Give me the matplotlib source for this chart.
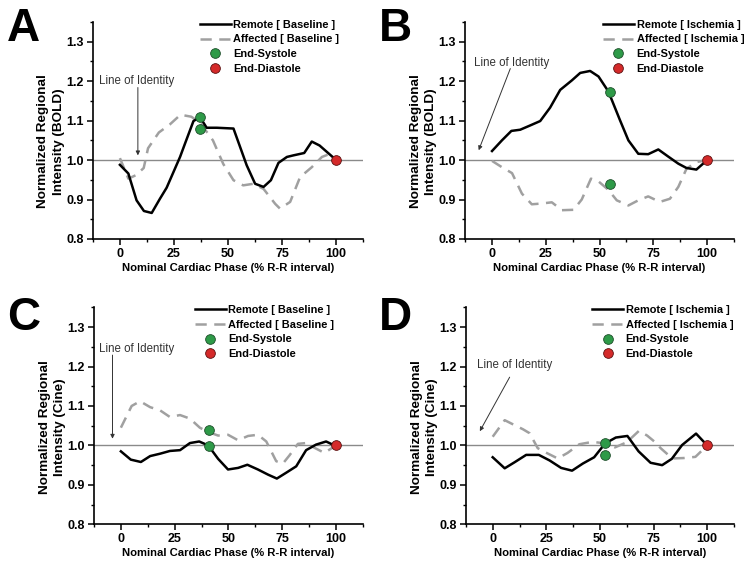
import matplotlib
matplotlib.use('Agg')
import matplotlib.pyplot as plt
from matplotlib.ticker import MultipleLocator

plt.rcParams['font.family'] = ['Liberation Sans', 'DejaVu Sans']

# ---- panel A: BOLD, baseline
a_remote_x = [0, 3.9, 7.7, 11.1, 14.7, 18.5, 21.6, 27.8, 30.1, 34, 37, 40.1, 44.8, 52.5,
              58.6, 62.5, 66.4, 69.8, 73.3, 77.2, 80.2, 85.2, 88.7, 92.3, 100]
a_remote_y = [0.988, 0.966, 0.898, 0.871, 0.866, 0.902, 0.930, 1.008, 1.042, 1.099, 1.109, 1.082,
              1.082, 1.080, 0.987, 0.940, 0.932, 0.949, 0.993, 1.008, 1.012, 1.018, 1.047, 1.037, 1.0]
a_aff_x = [0, 3.9, 7.5, 11, 13, 18, 23, 28, 33, 37, 43, 47.8, 52.5, 57, 61.7, 66.4, 71.8,
           74, 78.7, 83.3, 88.7, 93.4, 97.2, 100]
a_aff_y = [1.005, 0.953, 0.962, 0.98, 1.03, 1.07, 1.09, 1.115, 1.11, 1.095, 1.05, 0.99, 0.949,
           0.936, 0.940, 0.927, 0.889, 0.877, 0.894, 0.957, 0.982, 1.008, 1.016, 1.0]
a_es = (37, [1.109, 1.079])

# ---- panel B: BOLD, ischemia
b_remote_x = [0, 4.6, 9, 13.1, 17.8, 22.4, 27, 31.7, 37.1, 41, 45.6, 49.5, 54.1, 59.5, 63.4,
              68, 72.6, 77.3, 81.9, 86.6, 90.4, 95, 100]
b_remote_y = [1.023, 1.050, 1.074, 1.077, 1.088, 1.099, 1.133, 1.178, 1.202, 1.221, 1.226, 1.212,
              1.174, 1.101, 1.050, 1.016, 1.015, 1.027, 1.009, 0.991, 0.980, 0.976, 1.0]
b_aff_x = [0, 4.6, 9.3, 13.9, 18.5, 23.2, 27.8, 32.5, 37.9, 41.7, 46, 49.5, 54, 58, 63.4,
           68, 72.6, 78, 82.7, 86.6, 90.4, 95, 100]
b_aff_y = [0.998, 0.982, 0.967, 0.915, 0.888, 0.890, 0.893, 0.873, 0.874, 0.900, 0.953, 0.946,
           0.925, 0.898, 0.885, 0.898, 0.908, 0.894, 0.902, 0.932, 0.978, 0.995, 1.0]
b_es = (54.7, [1.173, 0.939])

# ---- panel C: Cine, baseline
c_remote_x = [0, 4.6, 9.3, 13.6, 18.2, 22.8, 27.5, 32.1, 36.4, 40.6, 45.2, 49.8, 54.5, 58.8,
              63.7, 68.4, 72.5, 76.9, 81.5, 86.1, 90.7, 95.4, 100]
c_remote_y = [0.985, 0.964, 0.958, 0.973, 0.979, 0.986, 0.988, 1.006, 1.010, 1.000, 0.966, 0.939,
              0.943, 0.951, 0.939, 0.926, 0.916, 0.931, 0.947, 0.988, 1.002, 1.010, 0.998]
c_aff_x = [0, 5, 8.9, 13.6, 18.2, 22.8, 27.5, 32.1, 36.7, 40.6, 45.2, 49.8, 54.5, 59.1, 63.7,
           67.6, 72.2, 75.3, 78.4, 82.3, 86.1, 90, 94.6, 100]
c_aff_y = [1.045, 1.1, 1.112, 1.097, 1.089, 1.072, 1.077, 1.068, 1.045, 1.034, 1.025, 1.027,
           1.013, 1.024, 1.027, 1.010, 0.960, 0.954, 0.975, 1.004, 1.006, 0.994, 0.981, 1.0]
c_es = (41, [1.04, 0.998])

# ---- panel D: Cine, ischemia
d_remote_x = [0, 5.6, 10.4, 15.6, 21.5, 26.5, 31.9, 37, 42, 47.3, 52.4, 57.4, 62.8, 68,
              73.6, 79, 83.5, 88.3, 94.8, 100]
d_remote_y = [0.970, 0.942, 0.958, 0.976, 0.976, 0.962, 0.943, 0.936, 0.954, 0.970, 1.005, 1.020,
              1.024, 0.985, 0.956, 0.950, 0.966, 1.001, 1.030, 1.0]
d_aff_x = [0, 5.6, 10, 14.1, 17.2, 21, 25.5, 30.3, 34.9, 40.4, 46.5, 52.8, 57, 62.5, 68.2,
           72, 76, 78.3, 83.7, 89, 94.5, 100]
d_aff_y = [1.022, 1.064, 1.052, 1.041, 1.031, 0.993, 0.980, 0.967, 0.981, 1.003, 1.009, 1.005,
           0.995, 1.008, 1.037, 1.025, 1.007, 0.993, 0.967, 0.968, 0.971, 1.0]
d_es = (52.5, [1.005, 0.976])

# letter, y-kind, condition, data..., axes rect, letter x/y, text pos, arrow tail, arrow tip, legend x
panels = [
    ('A', 'BOLD', 'Baseline', a_remote_x, a_remote_y, a_aff_x, a_aff_y, a_es,
     [0.124, 0.577, 0.361, 0.384], (0.009, 0.988), (7.6, 1.2), (8.3, 1.184), (8.3, 1.012), 0.396),
    ('B', 'BOLD', 'Ischemia', b_remote_x, b_remote_y, b_aff_x, b_aff_y, b_es,
     [0.621, 0.577, 0.359, 0.384], (0.506, 0.988), (9.3, 1.247), (8.5, 1.232), (-6.2, 1.025), 0.513),
    ('C', 'Cine', 'Baseline', c_remote_x, c_remote_y, c_aff_x, c_aff_y, c_es,
     [0.1255, 0.072, 0.359, 0.384], (0.009, 0.476), (7.4, 1.245), (-3.9, 1.229), (-3.9, 1.017), 0.375),
    ('D', 'Cine', 'Ischemia', d_remote_x, d_remote_y, d_aff_x, d_aff_y, d_es,
     [0.622, 0.072, 0.358, 0.384], (0.506, 0.476), (10.2, 1.203), (7.9, 1.173), (-6.0, 1.036), 0.471),
]

green = '#2e9a48'
red = '#d42a2a'

fig = plt.figure(figsize=(7.49, 5.65), dpi=100)

for (letter, kind, cond, rx, ry, ax_x, ax_y, es, pos, let_xy, txt, arr_tail, arr_tip,
     leg_x) in panels:
    ax = fig.add_axes(pos)
    ax.axhline(1.0, color='#8a8a8a', lw=1.0, zorder=1)
    ax.plot(rx, ry, color='black', lw=1.8, label='Remote [ %s ]' % cond, zorder=3)
    ax.plot(ax_x, ax_y, color='#a0a0a0', lw=1.8, dashes=(4.5, 3),
            label='Affected [ %s ]' % cond, zorder=2)
    ax.plot([es[0]] * len(es[1]), es[1], 'o', ms=7, mfc=green, mec='#1d4d2a', mew=0.6,
            ls='none', label='End-Systole', zorder=4)
    ax.plot([100], [1.0], 'o', ms=7, mfc=red, mec='#5a1010', mew=0.6,
            ls='none', label='End-Diastole', zorder=4)

    ax.annotate('', xy=arr_tip, xytext=arr_tail,
                arrowprops=dict(arrowstyle='-|>', color='#333333', lw=0.7,
                                mutation_scale=6, shrinkA=0, shrinkB=0))
    ax.text(txt[0], txt[1], 'Line of Identity', ha='center', va='center',
            fontsize=8.3, color='#333333')

    ax.set_xlim(-12.5, 112.5)
    ax.set_ylim(0.8, 1.35)
    ax.set_xticks([0, 25, 50, 75, 100])
    ax.set_yticks([0.8, 0.9, 1.0, 1.1, 1.2, 1.3])
    ax.xaxis.set_minor_locator(MultipleLocator(12.5))
    ax.yaxis.set_minor_locator(MultipleLocator(0.05))
    ax.yaxis.set_major_formatter(plt.FormatStrFormatter('%.1f'))
    ax.spines['top'].set_visible(False)
    ax.spines['right'].set_visible(False)
    for s in ('left', 'bottom'):
        ax.spines[s].set_linewidth(1.2)
    ax.tick_params(which='major', direction='out', length=4, width=1.1, labelsize=9, pad=2.5)
    ax.tick_params(which='minor', direction='out', length=2, width=1.0)
    for lab in ax.get_xticklabels() + ax.get_yticklabels():
        lab.set_fontweight('bold')
    ax.set_xlabel('Nominal Cardiac Phase (% R-R interval)', fontsize=8.1,
                  fontweight='bold', labelpad=2)
    ax.set_ylabel('Normalized Regional\nIntensity (%s)' % kind, fontsize=9.7,
                  fontweight='bold', linespacing=1.4)
    ax.yaxis.set_label_coords(-0.103, 0.45)

    ax.legend(loc='upper left', bbox_to_anchor=(leg_x, 1.01), frameon=False,
              borderpad=0, borderaxespad=0, handlelength=2.8, handletextpad=0.25,
              labelspacing=0.42, prop={'weight': 'bold', 'size': 7.9})

    fig.text(let_xy[0], let_xy[1], letter, fontsize=33, fontweight='bold',
             va='top', ha='left')

fig.savefig('out.png', dpi=100)
